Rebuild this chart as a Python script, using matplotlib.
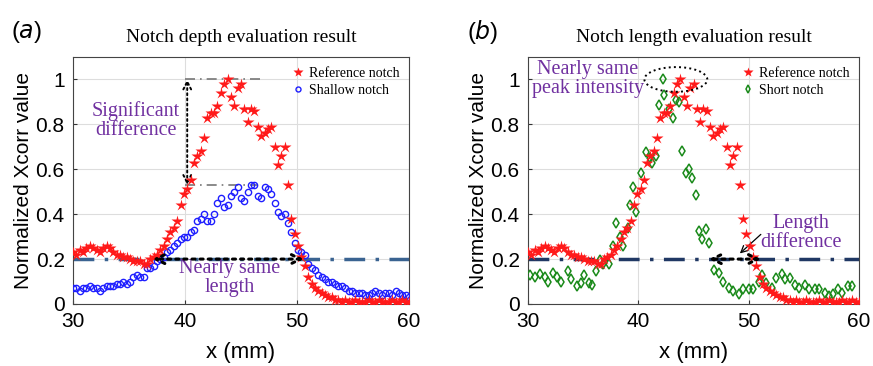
import numpy as np
import matplotlib.pyplot as plt
from matplotlib.patches import Ellipse

# reference notch, sampled every 0.3 mm from 30 to 60
x_ref = np.arange(101) * 0.3 + 30.0
y_ref = [0.23, 0.22, 0.24, 0.23, 0.25, 0.26, 0.25, 0.24, 0.23, 0.25,
         0.26, 0.25, 0.23, 0.22, 0.22, 0.21, 0.21, 0.20, 0.19, 0.19,
         0.19, 0.18, 0.18, 0.20, 0.21, 0.22, 0.24, 0.26, 0.29, 0.32,
         0.34, 0.37, 0.44, 0.49, 0.51, 0.55, 0.63, 0.66, 0.68, 0.74,
         0.83, 0.85, 0.85, 0.88, 0.94, 0.98, 1.00, 0.92, 0.88, 0.96,
         0.98, 0.87, 0.81, 0.87, 0.86, 0.79, 0.75, 0.76, 0.78, 0.79,
         0.70, 0.62, 0.66, 0.70, 0.53, 0.38, 0.31, 0.26, 0.21, 0.17,
         0.12, 0.09, 0.07, 0.06, 0.05, 0.04, 0.03, 0.03, 0.02, 0.02,
         0.01, 0.02, 0.01, 0.01, 0.02, 0.01, 0.01, 0.01, 0.02, 0.01,
         0.01, 0.02, 0.01, 0.01, 0.01, 0.02, 0.01, 0.01, 0.02, 0.01, 0.01]

# shallow notch, same sampling
x_shallow = np.arange(101) * 0.3 + 30.0
y_shallow = [0.07, 0.07, 0.06, 0.07, 0.07, 0.08, 0.07, 0.07, 0.06, 0.07,
             0.08, 0.08, 0.08, 0.09, 0.09, 0.10, 0.09, 0.10, 0.12, 0.13,
             0.12, 0.12, 0.16, 0.16, 0.17, 0.19, 0.20, 0.21, 0.23, 0.24,
             0.26, 0.27, 0.29, 0.30, 0.30, 0.32, 0.33, 0.37, 0.38, 0.40,
             0.37, 0.37, 0.40, 0.45, 0.47, 0.43, 0.44, 0.48, 0.50, 0.52,
             0.47, 0.46, 0.50, 0.53, 0.53, 0.48, 0.47, 0.52, 0.51, 0.49,
             0.45, 0.41, 0.39, 0.40, 0.36, 0.32, 0.27, 0.24, 0.23, 0.22,
             0.18, 0.16, 0.15, 0.13, 0.12, 0.11, 0.10, 0.10, 0.09, 0.08,
             0.08, 0.07, 0.06, 0.06, 0.05, 0.05, 0.05, 0.04, 0.04, 0.05,
             0.06, 0.05, 0.04, 0.05, 0.05, 0.04, 0.06, 0.05, 0.04, 0.04, 0.03]

# short notch
x_short = [30.2, 30.6, 31.1, 31.5, 31.8, 32.3, 32.6, 33.0, 33.6, 33.9,
           34.4, 34.8, 35.1, 35.5, 35.8, 36.2, 36.5, 36.8, 37.3, 37.7,
           38.0, 38.3, 38.6, 39.1, 39.2, 39.5, 39.8, 40.2, 40.7, 41.1,
           41.2, 41.6, 41.9, 42.2, 42.3, 42.8, 43.1, 43.4, 43.7, 44.0,
           44.3, 44.6, 44.9, 45.2, 45.5, 45.8, 46.1, 46.4, 46.9, 47.3,
           47.7, 48.2, 48.6, 49.1, 49.5, 50.0, 50.4, 50.9, 51.2, 51.6,
           52.1, 52.5, 53.0, 53.3, 53.7, 54.2, 54.6, 55.1, 55.5, 56.0,
           56.4, 56.9, 57.3, 57.6, 58.1, 58.5, 59.0, 59.4]
y_short = [0.13, 0.12, 0.135, 0.12, 0.10, 0.14, 0.12, 0.10, 0.145, 0.11,
           0.08, 0.095, 0.13, 0.095, 0.085, 0.145, 0.195, 0.18, 0.18, 0.26,
           0.36, 0.30, 0.26, 0.34, 0.44, 0.52, 0.41, 0.585, 0.675, 0.65,
           0.63, 0.66, 0.885, 1.00, 0.93, 0.87, 0.83, 0.91, 0.90, 0.68,
           0.585, 0.60, 0.56, 0.485, 0.325, 0.29, 0.335, 0.27, 0.15, 0.14,
           0.10, 0.07, 0.06, 0.045, 0.065, 0.065, 0.065, 0.10, 0.13, 0.095,
           0.07, 0.115, 0.135, 0.11, 0.115, 0.085, 0.07, 0.085, 0.065, 0.065,
           0.065, 0.05, 0.035, 0.045, 0.065, 0.05, 0.08, 0.08]

xticks = [30, 40, 50, 60]
yticks = [0, 0.2, 0.4, 0.6, 0.8, 1]
ytick_labels = ['0', '0.2', '0.4', '0.6', '0.8', '1']

sans = ['Liberation Sans', 'DejaVu Sans']
serif = ['Liberation Serif', 'DejaVu Serif']
purple = '#7030a0'

fig = plt.figure(figsize=(8.73, 3.66), dpi=100)
axa = fig.add_axes([0.0836, 0.1694, 0.3849, 0.6749])
axb = fig.add_axes([0.6048, 0.1694, 0.3792, 0.6749])


def style(ax, title, tag):
    ax.set_xlim(30, 60)
    ax.set_ylim(0, 1.1)
    ax.set_xticks(xticks)
    ax.set_xticklabels([str(t) for t in xticks], family=sans, fontsize=15)
    ax.set_yticks(yticks)
    ax.set_yticklabels(ytick_labels, family=sans, fontsize=15)
    ax.tick_params(direction='in', length=3, color='#333333', pad=6)
    ax.grid(True, color='#dddddd', linewidth=0.8)
    ax.set_axisbelow(True)
    for s in ax.spines.values():
        s.set_color('#444444')
        s.set_linewidth(0.8)
    ax.set_xlabel('x (mm)', family=sans, fontsize=16, labelpad=8)
    ax.set_ylabel('Normalized Xcorr value', family=sans, fontsize=15, labelpad=2)
    ax.set_title(title, family=serif, fontsize=14, pad=11)
    ax.text(-0.185, 1.10, tag, transform=ax.transAxes, fontsize=17,
            family=sans, va='center')


# (a) depth
style(axa, 'Notch depth evaluation result', '($a$)')
axa.axhline(0.2, color='#3a6391', linewidth=2.5, linestyle=(0, (6, 3, 1, 3)), zorder=1)
axa.plot(x_shallow, y_shallow, 'o', ms=4.5, mfc='none', mec='#1f1fff', mew=1.0,
         label='Shallow notch', zorder=3)
axa.plot(x_ref, y_ref, '*', ms=9, color='#ff1a1a', mec='none',
         label='Reference notch', zorder=4)
h, l = axa.get_legend_handles_labels()
axa.legend(h[::-1], l[::-1], loc='upper right', frameon=False,
           prop={'family': serif, 'size': 10}, handletextpad=0.2,
           borderaxespad=0.3, handlelength=1.2, labelspacing=0.3,
           markerscale=0.8)
axa.plot([40.0, 46.8], [1.0, 1.0], color='#777777', linewidth=1.2,
         linestyle=(0, (6, 3, 1, 3)), zorder=2)
axa.plot([40.0, 46.5], [0.53, 0.53], color='#777777', linewidth=1.2,
         linestyle=(0, (6, 3, 1, 3)), zorder=2)
axa.annotate('', xy=(40.2, 1.0), xytext=(40.2, 0.53),
             arrowprops=dict(arrowstyle='<->', color='black', lw=1.4,
                             linestyle=':', mutation_scale=14, shrinkA=0, shrinkB=0))
axa.annotate('', xy=(37.1, 0.2), xytext=(50.6, 0.2),
             arrowprops=dict(arrowstyle='<->', color='black', lw=2.2,
                             linestyle=':', mutation_scale=16, shrinkA=0, shrinkB=0),
             zorder=5)
axa.text(35.6, 0.815, 'Significant\ndifference', color=purple, family=serif,
         fontsize=14.5, ha='center', va='center', linespacing=1.0)
axa.text(44.0, 0.115, 'Nearly same\nlength', color=purple, family=serif,
         fontsize=14.5, ha='center', va='center', linespacing=1.0)

# (b) length
style(axb, 'Notch length evaluation result', '($b$)')
axb.axhline(0.2, color='#203864', linewidth=2.5, linestyle=(0, (6, 3, 1, 3)), zorder=1)
axb.plot(x_short, y_short, 'd', ms=5, mfc='none', mec='#1a8a1a', mew=1.1,
         label='Short notch', zorder=3)
axb.plot(x_ref, y_ref, '*', ms=9, color='#ff1a1a', mec='none',
         label='Reference notch', zorder=4)
h, l = axb.get_legend_handles_labels()
axb.legend(h[::-1], l[::-1], loc='upper right', frameon=False,
           prop={'family': serif, 'size': 10}, handletextpad=0.2,
           borderaxespad=0.3, handlelength=1.2, labelspacing=0.3,
           markerscale=0.8)
axb.add_patch(Ellipse((43.4, 1.0), 5.7, 0.11, fill=False, edgecolor='black',
                      linestyle=':', linewidth=1.4, zorder=5))
axb.annotate('', xy=(46.4, 0.2), xytext=(51.1, 0.2),
             arrowprops=dict(arrowstyle='<->', color='black', lw=2.2,
                             linestyle=':', mutation_scale=16, shrinkA=0, shrinkB=0),
             zorder=5)
axb.annotate('', xy=(49.2, 0.225), xytext=(51.1, 0.31),
             arrowprops=dict(arrowstyle='->', color='black', lw=0.9,
                             mutation_scale=12, shrinkA=0, shrinkB=0))
axb.text(35.4, 1.0, 'Nearly same\npeak intensity', color=purple, family=serif,
         fontsize=14.5, ha='center', va='center', linespacing=1.0)
axb.text(54.7, 0.315, 'Length\ndifference', color=purple, family=serif,
         fontsize=14.5, ha='center', va='center', linespacing=1.0)

fig.savefig('out.png', dpi=100)
